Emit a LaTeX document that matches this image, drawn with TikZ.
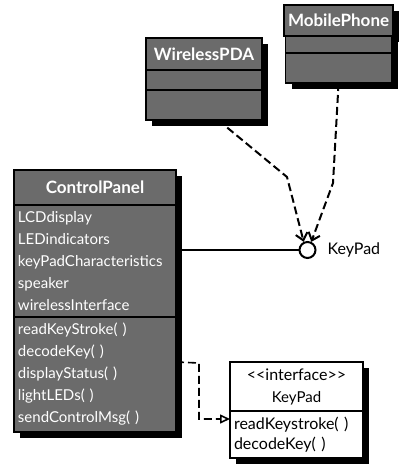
\documentclass[tikz,border=0pt]{standalone}
\usepackage{fontspec}
\setmainfont{Lato}
\usetikzlibrary{positioning, shadows, arrows.meta}

\begin{document}
\begin{tikzpicture}[x=0.5pt, y=-0.5pt, font=\fontsize{7.5}{11}\selectfont,
    box/.style = {draw, line width=0.8pt, fill=black!58, text=white, inner sep=2pt, outer sep=0pt,
                  drop shadow={shadow xshift=3pt, shadow yshift=-3pt, fill=black, opacity=1}},
    title/.style = {box, font=\fontsize{8.5}{10}\selectfont\bfseries},
    body/.style = {box, align=left},
    iface/.style = {box, fill=white, text=black},
    dep/.style = {line width=1pt, dash pattern=on 4pt off 2pt, -{Straight Barb[length=3.5pt, width=6pt]}},
    real/.style = {line width=0.8pt, dash pattern=on 4pt off 2pt, -{Triangle[open, length=5pt, width=4.5pt]}}]
    \useasboundingbox (0,0) rectangle (401,470);

    % WirelessPDA
    \node[title, minimum width=58pt, minimum height=16pt, anchor=north west] (pda) at (146,38) {WirelessPDA};
    \node[box, minimum width=58pt, minimum height=10pt, below=0pt of pda] (pdaAttr) {};
    \node[box, minimum width=58pt, minimum height=15pt, below=0pt of pdaAttr] (pdaOps) {};

    % MobilePhone
    \node[title, minimum width=53pt, minimum height=15.5pt, anchor=north west] (ph) at (284,5) {MobilePhone};
    \node[box, minimum width=53pt, minimum height=8.5pt, below=0pt of ph] (phAttr) {};
    \node[box, minimum width=53pt, minimum height=15pt, below=0pt of phAttr] (phOps) {};

    % ControlPanel
    \node[title, minimum width=81pt, minimum height=17.5pt, anchor=north west] (cp) at (14,170) {ControlPanel};
    \node[body, text width=77pt, minimum height=56pt, below=0pt of cp] (cpAttr)
        {LCDdisplay\\LEDindicators\\keyPadCharacteristics\\speaker\\wirelessInterface};
    \node[body, text width=77pt, minimum height=57.5pt, below=0pt of cpAttr] (cpOps)
        {readKeyStroke( )\\decodeKey( )\\displayStatus( )\\lightLEDs( )\\sendControlMsg( )};

    % KeyPad interface
    \node[iface, minimum width=66.5pt, minimum height=24.5pt, align=center, anchor=north west] (kpi) at (230,362)
        {\fontsize{8}{10.5}\selectfont<{}<interface>{}>\\KeyPad};
    \node[iface, body, fill=white, text=black, text width=62.5pt, minimum height=23.5pt, font=\fontsize{8}{10}\selectfont,
          below=0pt of kpi] (kpiOps)
        {readKeystroke( )\\decodeKey( )};

    % lollipop
    \node[circle, draw, line width=1pt, fill=white, minimum size=8pt, inner sep=0pt] (kp) at (307.5,250) {};
    \node[right=2pt of kp, font=\fontsize{8}{10}\selectfont] (kpLabel) {KeyPad};

    \coordinate (pdaBend) at (287,177);
    \coordinate (phBend) at (333,183);
    \coordinate (realBend) at (199,363);

    \draw[line width=0.8pt] (cpAttr.east |- kp) -- (kp);
    \draw[dep] ([xshift=7pt]pdaOps.south) -- (pdaBend) -- (kp.115);
    \draw[dep] (phOps.south) -- (phBend) -- (kp.65);
    \draw[real] (cpOps.east |- kpi.north) -- (realBend) |- ([yshift=-4pt]kpiOps.north west);
\end{tikzpicture}
\end{document}
